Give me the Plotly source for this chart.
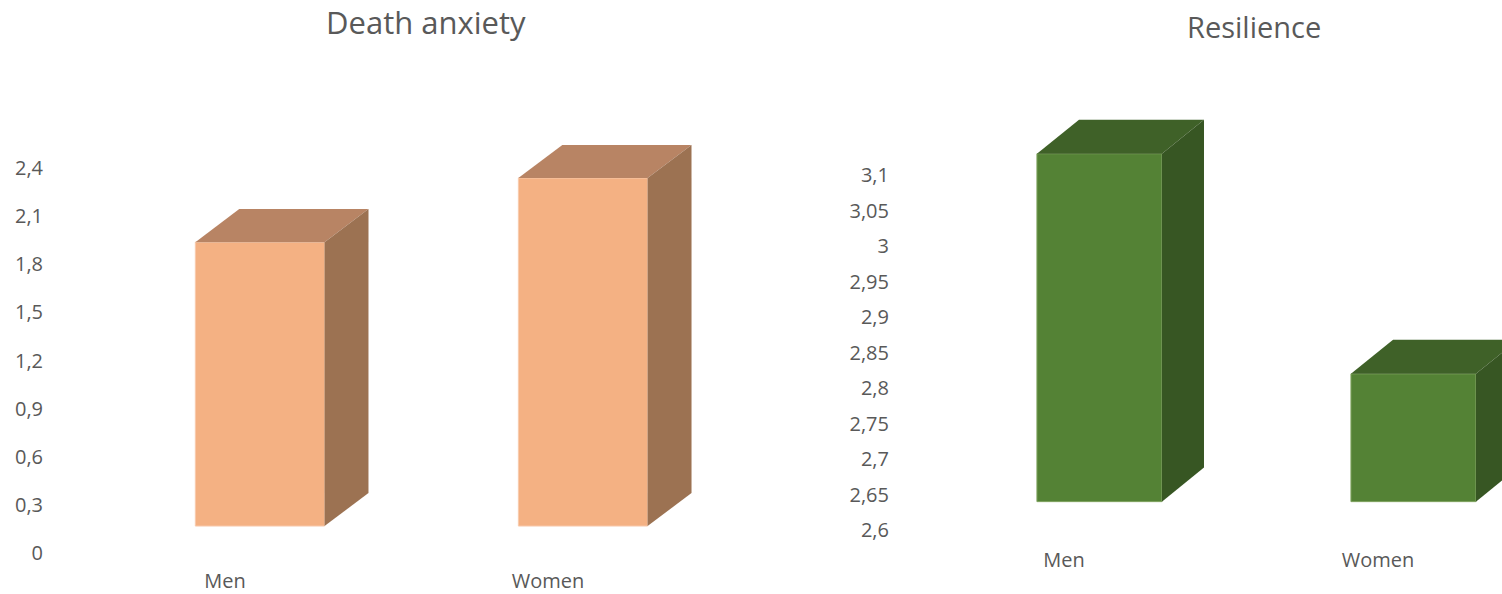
import plotly.graph_objects as go

# ---- data -------------------------------------------------------------
categories = ["Men", "Women"]
death_anxiety = [1.77, 2.17]
resilience = [3.09, 2.78]

death_tickvals = [0, 0.3, 0.6, 0.9, 1.2, 1.5, 1.8, 2.1, 2.4]
death_ticktext = ["0", "0,3", "0,6", "0,9", "1,2", "1,5", "1,8", "2,1", "2,4"]
death_floor = 0.0

res_tickvals = [2.6, 2.65, 2.7, 2.75, 2.8, 2.85, 2.9, 2.95, 3.0, 3.05, 3.1]
res_ticktext = ["2,6", "2,65", "2,7", "2,75", "2,8", "2,85", "2,9", "2,95", "3", "3,05", "3,1"]
res_floor = 2.6

# ---- styling ----------------------------------------------------------
TEXT = "#595959"
FONT = "Open Sans"

ORANGE = dict(front="#F4B183", top="#B88464", side="#9C7252", edge="#F8CBAD")
GREEN = dict(front="#548235", top="#3F6128", side="#375623", edge="#7FA35F")

# Oblique "3-D" geometry per panel, in data units:
#   off  - horizontal shift of the bar front from its category tick
#   w    - bar width
#   lift - vertical shift of the bar floor above the axis floor
#   dx/dy - depth vector from front face to back face
DEATH_GEOM = dict(off=0.108, w=0.40, lift=0.168, dx=0.136, dy=0.206)
RES_GEOM = dict(off=0.113, w=0.398, lift=0.040, dx=0.134, dy=0.048)


def add_panel(fig, values, floor, xa, ya, col, g):
    xs = [i + g["off"] for i in range(len(values))]
    base = floor + g["lift"]
    # front faces
    fig.add_trace(go.Bar(
        x=xs, y=[v - floor for v in values], base=[base] * len(values),
        width=g["w"], marker=dict(color=col["front"], line=dict(color=col["edge"], width=1)),
        xaxis=xa, yaxis=ya, hoverinfo="skip", showlegend=False,
    ))
    for xc, v in zip(xs, values):
        x0, x1 = xc - g["w"] / 2, xc + g["w"] / 2
        y0, y1 = base, base + (v - floor)
        dx, dy = g["dx"], g["dy"]
        # top face
        fig.add_trace(go.Scatter(
            x=[x0, x0 + dx, x1 + dx, x1, x0], y=[y1, y1 + dy, y1 + dy, y1, y1],
            fill="toself", fillcolor=col["top"], mode="lines", line=dict(width=0),
            xaxis=xa, yaxis=ya, hoverinfo="skip", showlegend=False,
        ))
        # side face
        fig.add_trace(go.Scatter(
            x=[x1, x1 + dx, x1 + dx, x1, x1], y=[y0, y0 + dy, y1 + dy, y1, y0],
            fill="toself", fillcolor=col["side"], mode="lines", line=dict(width=0),
            xaxis=xa, yaxis=ya, hoverinfo="skip", showlegend=False,
        ))


fig = go.Figure()
add_panel(fig, death_anxiety, death_floor, "x", "y", ORANGE, DEATH_GEOM)
add_panel(fig, resilience, res_floor, "x2", "y2", GREEN, RES_GEOM)

axis_common = dict(showgrid=False, zeroline=False, showline=False, ticks="",
                   automargin=False,
                   tickfont=dict(family=FONT, size=20, color=TEXT), fixedrange=True)

fig.update_layout(
    width=1502, height=594,
    margin=dict(l=0, r=0, t=0, b=0),
    paper_bgcolor="white", plot_bgcolor="white",
    showlegend=False,
    xaxis=dict(domain=[0.0333, 0.526], range=[-0.5418, 1.749], anchor="y",
               tickvals=[0, 1], ticktext=categories, **axis_common),
    yaxis=dict(domain=[0.04545, 1.0], range=[-0.0873, 3.4476], anchor="x",
               tickvals=death_tickvals, ticktext=death_ticktext,
               ticklabelstandoff=6, **axis_common),
    xaxis2=dict(domain=[0.5965, 1.0], range=[-0.535, 1.395], anchor="y2",
                tickvals=[0, 1], ticktext=categories, **axis_common),
    yaxis2=dict(domain=[0.0808, 1.0], range=[2.5775, 3.3465], anchor="x2",
                tickvals=res_tickvals, ticktext=res_ticktext,
                ticklabelstandoff=6, **axis_common),
    annotations=[
        dict(text="Death anxiety", x=0.2836, y=0.963, xref="paper", yref="paper",
             xanchor="center", yanchor="middle", showarrow=False,
             font=dict(family=FONT, size=31, color=TEXT)),
        dict(text="Resilience", x=0.8349, y=0.956, xref="paper", yref="paper",
             xanchor="center", yanchor="middle", showarrow=False,
             font=dict(family=FONT, size=29, color=TEXT)),
    ],
)

fig.write_html("out.html")
